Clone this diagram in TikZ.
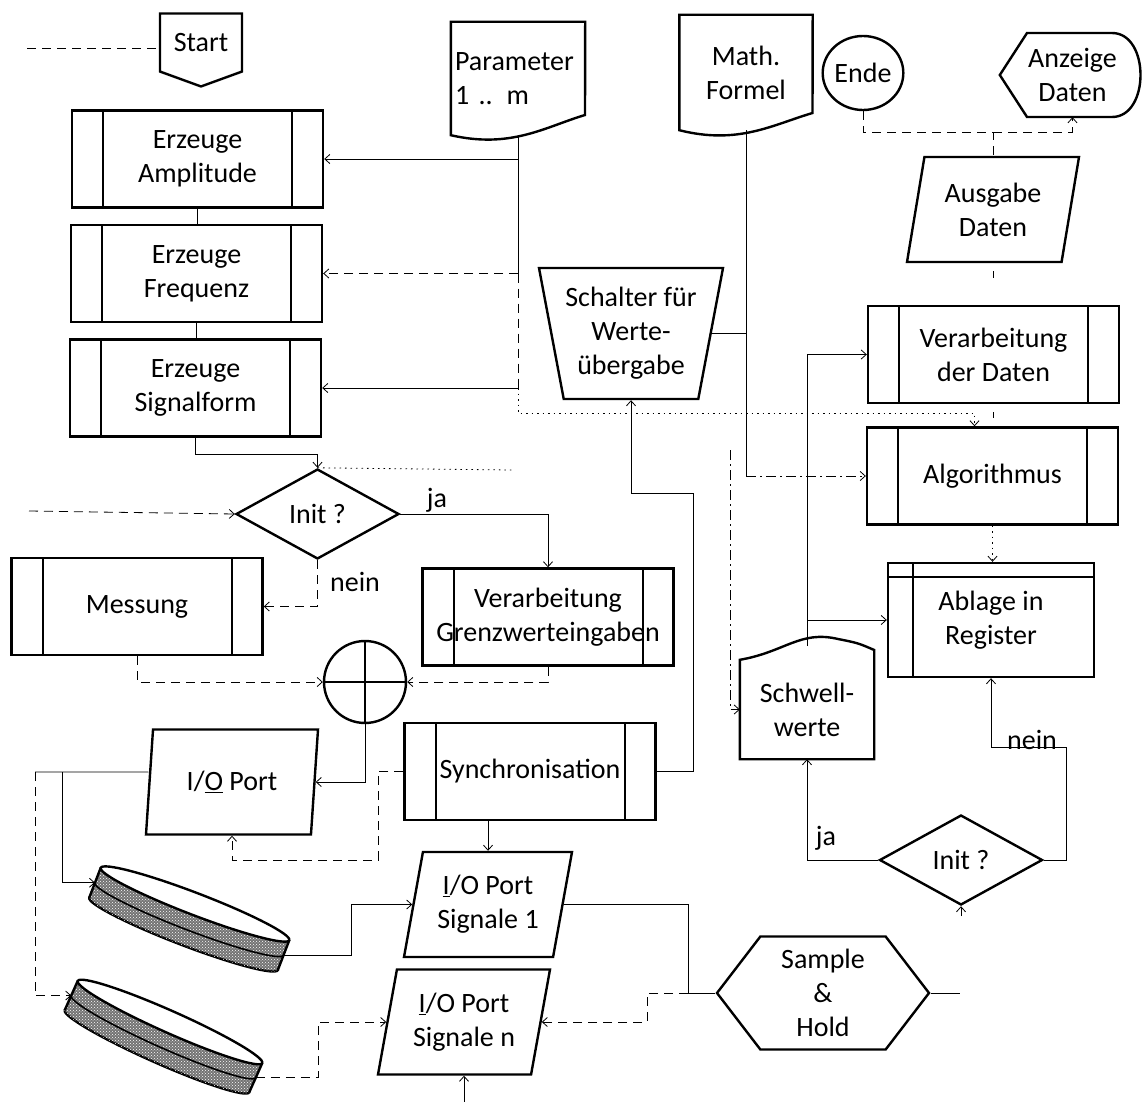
\documentclass[tikz,border=0pt]{standalone}
\usepackage{fontspec}
\setmainfont{Carlito}
\usetikzlibrary{shapes.geometric,shapes.symbols,arrows.meta,patterns}

\begin{document}
\begin{tikzpicture}[x=1pt,y=-1pt,
    font=\fontsize{28}{34}\selectfont,
    >={Straight Barb[length=5pt,width=9pt]},
    every node/.style={align=center,inner sep=0pt},
    shp/.style={line width=2.4pt},
    ln/.style={line width=0.8pt},
    dln/.style={ln,dash pattern=on 9pt off 6pt},
    dotln/.style={ln,dash pattern=on 1.5pt off 4pt},
    ddln/.style={ln,dash pattern=on 10pt off 4pt on 2pt off 4pt},
    subproc/.style={draw,shp,minimum width=251pt,minimum height=97pt,
      path picture={\draw[line width=2pt]
        ([xshift=31pt]path picture bounding box.north west) -- ([xshift=31pt]path picture bounding box.south west)
        ([xshift=-31pt]path picture bounding box.north east) -- ([xshift=-31pt]path picture bounding box.south east);}},
    decide/.style={draw,shp,diamond,minimum width=163pt,minimum height=90pt},
    inout/.style={draw,shp,trapezium,trapezium left angle=72,trapezium right angle=108,
      trapezium stretches body,minimum width=172pt,minimum height=105pt},
    doc/.style={minimum width=134pt,minimum height=113pt},
    disk/.style={fill=black!55,postaction={pattern=crosshatch dots,pattern color=white}}]
    \useasboundingbox (0,0) rectangle (1148,1102);
    % Definitions:
    \node[draw,shp,signal,signal to=south,signal pointer angle=140,minimum width=82pt,minimum height=68pt] (start) at (201,42.5) {Start};
    \node[subproc] (amp) at (197.5,159) {Erzeuge\\Amplitude};
    \node[subproc] (freq) at (196.5,273.5) {Erzeuge\\Frequenz};
    \node[subproc] (sigf) at (195.5,388) {Erzeuge\\Signalform};
    \node[doc,text width=126pt,align=left] (par) at (518,78.5) {Parameter\\1 .. m};
    \node[doc,minimum width=133pt,minimum height=115pt] (mf) at (746,72.5) {Math.\\Formel};
    \node[draw,shp,ellipse,minimum width=78pt,minimum height=74pt] (ende) at (863,73) {Ende};
    \node[minimum width=145pt,minimum height=84pt] (anz) at (1072.5,75) {Anzeige\\Daten};
    \node[inout] (aus) at (993,209.5) {Ausgabe\\Daten};
    \node[draw,shp,trapezium,trapezium left angle=105,trapezium right angle=105,trapezium stretches body,
      minimum width=184pt,minimum height=131pt] (sch) at (631,333.5) {Schalter für\\Werte-\\übergabe};
    \node[subproc] (vdd) at (993.5,354.5) {Verarbeitung\\der Daten};
    \node[subproc] (algo) at (992.5,476) {Algorithmus};
    \node[decide] (dec1) at (317.5,514) {Init ?};
    \node[subproc] (mess) at (137,606.5) {Messung};
    \node[subproc] (grenz) at (548,617) {Verarbeitung\\Grenzwerteingaben};
    \node[draw,shp,minimum width=206pt,minimum height=114pt,
      path picture={\draw[line width=2pt]
        ([yshift=-14pt]path picture bounding box.north west) -- ([yshift=-14pt]path picture bounding box.north east)
        ([xshift=25pt]path picture bounding box.north west) -- ([xshift=25pt]path picture bounding box.south west);}] (abl) at (991,620) {Ablage in\\Register};
    \node[minimum width=134pt,minimum height=99pt] (sw) at (807,709.5) {Schwell-\\werte};
    \node[draw,shp,circle,minimum size=82pt,
      path picture={\draw[line width=2pt]
        (path picture bounding box.north) -- (path picture bounding box.south)
        (path picture bounding box.west) -- (path picture bounding box.east);}] (circ) at (365,682) {};
    \node[inout] (io1) at (232,782) {I/\underline{O} Port};
    \node[subproc] (sync) at (530,771.5) {Synchronisation};
    \node[decide] (dec2) at (961,860) {Init ?};
    \node[inout,minimum width=168pt] (sig1) at (488,904.5) {\underline{I}/O Port\\Signale 1};
    \node[inout] (sign) at (464,1022) {\underline{I}/O Port\\Signale n};
    \node[draw,shp,signal,signal to=east and west,signal pointer angle=105,
      minimum width=212pt,minimum height=113pt] (sh) at (823,993) {Sample\\\&\\Hold};
    % Outlines:
    \draw[shp] (par.south west) -- (par.north west) -- (par.north east) -- (585,115)
      .. controls (545,127) and (511,149) .. (par.south west) -- cycle;
    \draw[shp] (mf.south west) -- (mf.north west) -- (mf.north east) -- (812.5,113)
      .. controls (772,125) and (738,145) .. (mf.south west) -- cycle;
    \draw[shp] (anz.west) -- (1027,33) -- (1112,33) .. controls (1150,33) and (1150,117) .. (1112,117)
      -- (1027,117) -- cycle;
    \draw[shp] (sw.south west) -- (sw.north west) .. controls (785,652) and (800,630) .. (838,639)
      .. controls (858,643) .. (sw.north east |- 0,650) -- (sw.south east) -- cycle;
    \foreach \cx/\cy/\ang/\dk in {195/904/-21/dsk1,170/1022/-24/dsk2}{
      \begin{scope}[shift={(\cx,\cy)},rotate=\ang]
        \filldraw[disk,shp] (0,32) ellipse [x radius=101pt,y radius=11pt];
        \fill[disk] (-101,0) rectangle (101,32);
        \draw[shp] (-101,0) -- (-101,32) (101,0) -- (101,32);
        \begin{scope}
          \clip (-105,16) rectangle (105,40);
          \draw[line width=1.6pt] (0,16) ellipse [x radius=101pt,y radius=11pt];
        \end{scope}
        \filldraw[fill=white,shp] (0,0) ellipse [x radius=101pt,y radius=11pt];
        \coordinate (\dk-w) at (-101,16);
        \coordinate (\dk-e) at (101,16);
      \end{scope}}
    % Connectors:
    \coordinate (s0) at (27,48);
    \draw[dln] (s0) -- (s0 -| start.west);
    \draw[ln] (amp.south) -- (amp.south |- freq.north);
    \draw[ln] (freq.south) -- (freq.south |- sigf.north);
    \draw[ln,->] (sigf.south) -- ++(0,17) -| (dec1.north);
    \draw[ln,->] (par.south) |- (amp.east);
    \draw[ln] (par.south) -- (par.south |- freq.east);
    \draw[dln,->] (par.south |- freq.east) -- (freq.east);
    \draw[dln] (par.south |- freq.east) -- (par.south |- sigf.east);
    \draw[ln,->] (par.south |- sigf.east) -- (sigf.east);
    \draw[dotln,->] (par.south |- sigf.east) -- (par.south |- 0,413) -| ([xshift=-18pt]algo.north);
    \draw[ln] (mf.south) -- (mf.south |- algo.west);
    \draw[ddln,->] (mf.south |- algo.west) -- (algo.west);
    \draw[ln] (sch.east) -- (sch.east -| mf.south);
    \draw[dln] (ende.south) |- (aus.north |- 0,132) -- (aus.north);
    \draw[dln,->] (aus.north |- 0,132) -| (anz.south);
    \draw[ln,shorten <=8pt,shorten >=27pt] (aus.south) -- (aus.south |- vdd.north);
    \draw[ln,shorten <=8pt,shorten >=8pt] (vdd.south) -- (vdd.south |- algo.north);
    \draw[dotln,->] (algo.south) -- (algo.south |- abl.north);
    \draw[ln,->] (sw.north |- 0,646) |- (vdd.west);
    \draw[ln,->] (sw.north |- abl.west) -- (abl.west);
    \coordinate (q0) at (730,450);
    \draw[ddln,->] (q0) |- (sw.west);
    \draw[ln,->] (dec2.west) -| (sw.south);
    \coordinate (n1) at (1066,747);
    \draw[ln,->] (dec2.east) -| (n1) -| (abl.south);
    \draw[ln,->] ([yshift=-10pt]dec2.south) -- (dec2.south);
    \coordinate (i0) at (29,511);
    \draw[dln,->] (i0) -- (dec1.west);
    \draw[ln,->] (dec1.east) -| (grenz.north);
    \draw[dotln] (dec1.north) -- (513,470);
    \draw[dln,->] (dec1.south) |- (mess.east);
    \draw[dln,->] (mess.south) |- (circ.west);
    \draw[dln,->] (grenz.south) |- (circ.east);
    \draw[ln,->] (circ.south) |- (io1.east);
    \coordinate (k1) at (378,860);
    \draw[dln,->] (sync.west) -| (k1) -| (io1.south);
    \coordinate (l0) at (35,772);
    \coordinate (l1) at (62,772);
    \draw[ln] ([yshift=10pt]io1.west) -- (l0);
    \draw[ln,->] (l1) |- (dsk1-w);
    \draw[dln,->] (l0) |- (dsk2-w);
    \draw[ln,->] (dsk1-e) -- ++(68,0) |- (sig1.west);
    \draw[dln,->] (dsk2-e) -| ([xshift=-68pt]sign.west) -- (sign.west);
    \draw[ln,->] (sig1.north |- sync.south) -- (sig1.north);
    \coordinate (m1) at (693,493);
    \draw[ln,->] (sync.east) -| (m1) -| (sch.south);
    \coordinate (h1) at (688,993);
    \draw[ln] (sig1.east) -| (h1) -- (sh.west);
    \draw[dln,->] (h1) -- ++(-41,0) |- (sign.east);
    \draw[ln] (sh.east) -- ++(29,0);
    \draw[ln,->] (sign.south) ++(0,26) -- (sign.south);
    % Labels:
    \node (ja1) at (437,500) {ja};
    \node (nein1) at (355,582) {nein};
    \node (ja2) at (826,838) {ja};
    \node (nein2) at (1032,740) {nein};
\end{tikzpicture}
\end{document}
